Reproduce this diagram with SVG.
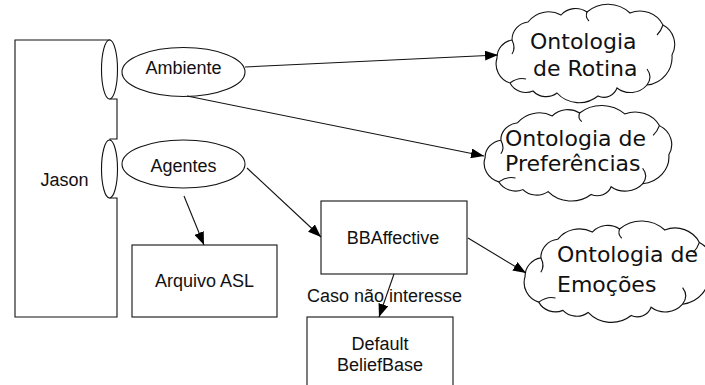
<svg xmlns="http://www.w3.org/2000/svg" width="705" height="385" viewBox="0 0 705 385">
  <style>
    .shape { fill: #fff; stroke: #111; stroke-width: 1.1; }
    .cloud { fill: #fff; stroke: #111; stroke-width: 1.1; vector-effect: non-scaling-stroke; }
    .curl { fill: none; stroke: #111; stroke-width: 1.1; vector-effect: non-scaling-stroke; }
    .lbl { font-family: "Liberation Sans", Arial, sans-serif; font-size: 18px; fill: #111; }
    .big { font-family: "DejaVu Sans", sans-serif; font-size: 22px; fill: #111; }
    .edge { fill: none; stroke: #111; stroke-width: 1.1; marker-end: url(#arrow); }
  </style>
  <defs>
    <marker id="arrow" markerUnits="userSpaceOnUse" markerWidth="14" markerHeight="10" refX="13" refY="5" orient="auto">
      <path d="M0,0 L13,5 L0,10 Z" fill="#000"/>
    </marker>
    <!-- generic cloud outline, roughly 178 x 86 -->
    <path id="cloudShape" d="M2,46 A18,18 0 0 1 17,28 A18,18 0 0 1 33,10 A26,26 0 0 1 66,3 A20,20 0 0 1 92,0 A32,32 0 0 1 135,1 A26,26 0 0 1 168,13 A22,22 0 0 1 177,43 A28,28 0 0 1 152,73 A22,22 0 0 1 122,76 A14,14 0 0 1 103,84 A30,30 0 0 1 62,81 A18,18 0 0 1 38,79 A18,18 0 0 1 15,71 A20,20 0 0 1 2,46 Z"/>
    <g id="cloudCurls">
      <path d="M17,28 q4,8 0,14"/>
      <path d="M15,71 q8,-6 16,-4"/>
      <path d="M152,73 q6,-8 0,-16"/>
      <path d="M168,13 q-2,6 -6,10"/>
      <path d="M92,0 q-2,5 2,9"/>
    </g>
  </defs>

  <!-- Jason component with two ports -->
  <g id="jason">
    <path class="shape" d="M15,40 H110 V99 H117 V139 H110 V198 H117 V317 H15 Z"/>
    <ellipse class="shape" cx="109.5" cy="69.5" rx="8" ry="29.5"/>
    <ellipse class="shape" cx="109.5" cy="169" rx="8" ry="29"/>
    <text class="lbl" x="64.5" y="186" text-anchor="middle">Jason</text>
  </g>

  <g id="ambiente">
    <ellipse class="shape" cx="183.5" cy="72" rx="61.5" ry="24.5"/>
    <text class="lbl" x="183.5" y="73.5" text-anchor="middle">Ambiente</text>
  </g>

  <g id="agentes">
    <ellipse class="shape" cx="183.5" cy="164" rx="61.5" ry="24"/>
    <text class="lbl" x="183.5" y="172" text-anchor="middle">Agentes</text>
  </g>

  <g id="arquivo-asl">
    <rect class="shape" x="132" y="245" width="145" height="72"/>
    <text class="lbl" x="204.5" y="287" text-anchor="middle">Arquivo ASL</text>
  </g>

  <g id="bbaffective">
    <rect class="shape" x="321" y="201" width="146" height="73"/>
    <text class="lbl" x="393" y="243.5" text-anchor="middle">BBAffective</text>
  </g>

  <g id="default-beliefbase">
    <rect class="shape" x="307" y="317" width="146" height="80"/>
    <text class="lbl" x="380" y="350" text-anchor="middle">Default</text>
    <text class="lbl" x="380" y="371" text-anchor="middle">BeliefBase</text>
  </g>

  <g id="ontologia-rotina">
    <g transform="translate(495,12)">
      <use href="#cloudShape" class="cloud"/>
      <use href="#cloudCurls" class="curl"/>
    </g>
    <text class="big" x="530" y="49">Ontologia</text>
    <text class="big" x="533" y="76">de Rotina</text>
  </g>

  <g id="ontologia-preferencias">
    <g transform="translate(483,113) scale(1.05,0.97)">
      <use href="#cloudShape" class="cloud"/>
      <use href="#cloudCurls" class="curl"/>
    </g>
    <text class="big" x="505" y="146">Ontologia de</text>
    <text class="big" x="505" y="171">Preferências</text>
  </g>

  <g id="ontologia-emocoes">
    <g transform="translate(523,229) scale(1.05,1.03)">
      <use href="#cloudShape" class="cloud"/>
      <use href="#cloudCurls" class="curl"/>
    </g>
    <text class="big" x="557" y="262">Ontologia de</text>
    <text class="big" x="557" y="292">Emoções</text>
  </g>

  <g id="connectors">
    <line class="edge" x1="245" y1="67" x2="498" y2="55"/>
    <line class="edge" x1="187" y1="96" x2="484" y2="156"/>
    <line class="edge" x1="184" y1="196" x2="204" y2="245"/>
    <line class="edge" x1="247" y1="168" x2="321" y2="237"/>
    <line class="edge" x1="468" y1="238" x2="526" y2="273"/>
    <line class="edge" x1="394" y1="274" x2="379" y2="317"/>
    <text class="lbl" x="307" y="302">Caso não interesse</text>
  </g>
</svg>
